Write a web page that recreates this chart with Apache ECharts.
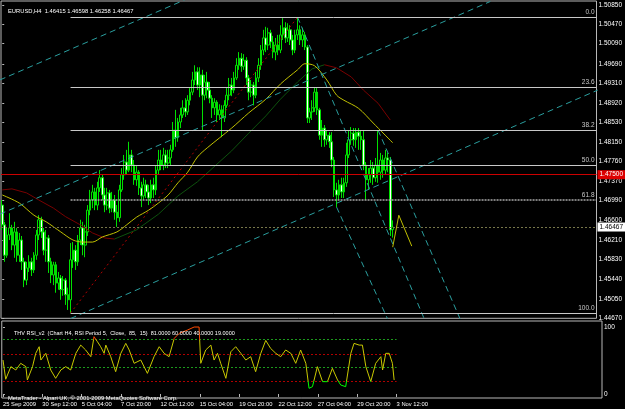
<!DOCTYPE html>
<html>
<head>
<meta charset="utf-8">
<script src="https://cdn.jsdelivr.net/npm/echarts@6/dist/echarts.min.js"></script>
<style>
  html, body { margin: 0; padding: 0; background: #000; }
  #chart { width: 625px; height: 409px; }
</style>
</head>
<body>
<div id="chart"></div>
<script>
// EURUSD H4 bars: [open, close, low, high]
const candles = [
  [1.4690,1.4651,1.4641,1.4700],[1.4651,1.4591,1.4578,1.4657],[1.4591,1.4631,1.4586,1.4645],[1.4631,1.4645,1.4621,1.4674],
  [1.4645,1.4611,1.4601,1.4651],[1.4611,1.4637,1.4586,1.4657],[1.4637,1.4591,1.4578,1.4645],[1.4591,1.4621,1.4578,1.4635],
  [1.4621,1.4578,1.4562,1.4629],[1.4578,1.4542,1.4528,1.4586],[1.4542,1.4566,1.4532,1.4578],[1.4566,1.4578,1.4558,1.4591],
  [1.4578,1.4562,1.4550,1.4586],[1.4562,1.4591,1.4556,1.4597],[1.4591,1.4631,1.4582,1.4641],[1.4631,1.4661,1.4621,1.4670],
  [1.4661,1.4637,1.4625,1.4667],[1.4637,1.4601,1.4591,1.4645],[1.4601,1.4625,1.4578,1.4641],[1.4625,1.4578,1.4556,1.4631],
  [1.4578,1.4552,1.4536,1.4586],[1.4552,1.4572,1.4532,1.4578],[1.4572,1.4536,1.4517,1.4578],[1.4536,1.4546,1.4523,1.4558],
  [1.4546,1.4523,1.4503,1.4552],[1.4523,1.4542,1.4511,1.4550],[1.4542,1.4513,1.4493,1.4546],[1.4513,1.4503,1.4483,1.4527],
  [1.4503,1.4582,1.4477,1.4615],[1.4582,1.4601,1.4566,1.4617],[1.4601,1.4578,1.4562,1.4611],[1.4578,1.4621,1.4570,1.4631],
  [1.4621,1.4645,1.4611,1.4661],[1.4645,1.4611,1.4591,1.4657],[1.4611,1.4637,1.4587,1.4651],[1.4637,1.4680,1.4629,1.4690],
  [1.4680,1.4700,1.4670,1.4720],[1.4700,1.4716,1.4684,1.4730],[1.4716,1.4690,1.4680,1.4724],[1.4690,1.4724,1.4680,1.4736],
  [1.4724,1.4744,1.4716,1.4759],[1.4744,1.4710,1.4700,1.4750],[1.4710,1.4690,1.4676,1.4724],[1.4690,1.4714,1.4680,1.4724],
  [1.4714,1.4684,1.4674,1.4720],[1.4684,1.4700,1.4676,1.4716],[1.4700,1.4676,1.4661,1.4710],[1.4676,1.4665,1.4647,1.4690],
  [1.4665,1.4720,1.4657,1.4730],[1.4720,1.4750,1.4716,1.4763],[1.4750,1.4775,1.4740,1.4789],[1.4775,1.4759,1.4750,1.4799],
  [1.4759,1.4789,1.4755,1.4815],[1.4789,1.4769,1.4755,1.4799],[1.4769,1.4740,1.4730,1.4779],[1.4740,1.4755,1.4728,1.4769],
  [1.4755,1.4724,1.4710,1.4759],[1.4724,1.4708,1.4686,1.4736],[1.4708,1.4730,1.4700,1.4744],[1.4730,1.4716,1.4704,1.4740],
  [1.4716,1.4704,1.4690,1.4730],[1.4704,1.4730,1.4694,1.4740],[1.4730,1.4720,1.4704,1.4744],[1.4720,1.4759,1.4710,1.4769],
  [1.4759,1.4779,1.4750,1.4799],[1.4779,1.4769,1.4759,1.4799],[1.4769,1.4789,1.4759,1.4803],[1.4789,1.4773,1.4763,1.4799],
  [1.4773,1.4783,1.4763,1.4799],[1.4783,1.4799,1.4769,1.4809],[1.4799,1.4838,1.4795,1.4854],[1.4838,1.4823,1.4805,1.4878],
  [1.4823,1.4854,1.4815,1.4862],[1.4854,1.4868,1.4842,1.4882],[1.4868,1.4882,1.4862,1.4897],[1.4882,1.4874,1.4864,1.4901],
  [1.4874,1.4897,1.4868,1.4907],[1.4897,1.4913,1.4887,1.4921],[1.4913,1.4937,1.4907,1.4953],[1.4937,1.4953,1.4927,1.4966],
  [1.4953,1.4927,1.4917,1.4962],[1.4927,1.4947,1.4903,1.4962],[1.4947,1.4907,1.4838,1.4957],[1.4907,1.4933,1.4897,1.4947],
  [1.4933,1.4917,1.4901,1.4953],[1.4917,1.4901,1.4891,1.4933],[1.4901,1.4882,1.4862,1.4907],[1.4882,1.4893,1.4868,1.4901],
  [1.4893,1.4868,1.4854,1.4897],[1.4868,1.4878,1.4858,1.4889],[1.4878,1.4862,1.4824,1.4887],[1.4862,1.4887,1.4854,1.4897],
  [1.4887,1.4907,1.4882,1.4921],[1.4907,1.4927,1.4897,1.4941],[1.4927,1.4917,1.4905,1.4941],[1.4917,1.4941,1.4911,1.4953],
  [1.4941,1.4966,1.4937,1.4980],[1.4966,1.4980,1.4957,1.4992],[1.4980,1.4964,1.4953,1.4990],[1.4964,1.4976,1.4957,1.4988],
  [1.4976,1.4941,1.4927,1.4982],[1.4941,1.4913,1.4897,1.4947],[1.4913,1.4927,1.4903,1.4937],[1.4927,1.4907,1.4887,1.4933],
  [1.4907,1.4941,1.4901,1.4953],[1.4941,1.4966,1.4933,1.4980],[1.4966,1.4996,1.4957,1.5006],[1.4996,1.5020,1.4986,1.5036],
  [1.5020,1.5006,1.4992,1.5042],[1.5006,1.5030,1.4996,1.5040],[1.5030,1.5012,1.5000,1.5036],[1.5012,1.4992,1.4980,1.5024],
  [1.4992,1.5006,1.4976,1.5020],[1.5006,1.4996,1.4986,1.5026],[1.4996,1.5026,1.4990,1.5045],[1.5026,1.5040,1.5016,1.5059],
  [1.5040,1.5020,1.5010,1.5051],[1.5020,1.5036,1.5012,1.5049],[1.5036,1.5016,1.5006,1.5045],[1.5016,1.4996,1.4986,1.5026],
  [1.4996,1.5026,1.4990,1.5036],[1.5026,1.5036,1.5016,1.5061],[1.5036,1.5016,1.5006,1.5045],[1.5016,1.5026,1.5002,1.5040],
  [1.5026,1.5002,1.4996,1.5032],[1.5002,1.4862,1.4852,1.5006],[1.4862,1.4874,1.4852,1.4882],[1.4874,1.4882,1.4858,1.4897],
  [1.4882,1.4913,1.4874,1.4923],[1.4913,1.4878,1.4868,1.4921],[1.4878,1.4828,1.4819,1.4882],[1.4828,1.4842,1.4805,1.4858],
  [1.4842,1.4819,1.4805,1.4848],[1.4819,1.4828,1.4809,1.4838],[1.4828,1.4815,1.4803,1.4834],[1.4815,1.4779,1.4765,1.4834],
  [1.4779,1.4720,1.4706,1.4785],[1.4720,1.4710,1.4686,1.4734],[1.4710,1.4730,1.4700,1.4740],[1.4730,1.4716,1.4704,1.4744],
  [1.4716,1.4734,1.4704,1.4744],[1.4734,1.4789,1.4726,1.4813],[1.4789,1.4819,1.4783,1.4838],[1.4819,1.4832,1.4809,1.4844],
  [1.4832,1.4819,1.4807,1.4842],[1.4819,1.4834,1.4803,1.4842],[1.4834,1.4826,1.4799,1.4842],[1.4826,1.4819,1.4799,1.4838],
  [1.4819,1.4769,1.4759,1.4838],[1.4769,1.4740,1.4700,1.4775],[1.4740,1.4750,1.4720,1.4763],[1.4750,1.4763,1.4734,1.4779],
  [1.4763,1.4744,1.4730,1.4775],[1.4744,1.4769,1.4736,1.4783],[1.4769,1.4755,1.4734,1.4838],[1.4755,1.4779,1.4740,1.4793],
  [1.4779,1.4759,1.4744,1.4789],[1.4759,1.4783,1.4750,1.4799],[1.4783,1.4779,1.4755,1.4793],[1.4779,1.4641,1.4629,1.4785],
  [1.46415,1.46467,1.46258,1.46598]
];

const slotCount = 244;   // bar slots across the visible window (incl. empty right shift)
const timeLabelBars = [0, 16, 32, 48, 64, 80, 96, 112, 128, 144, 160];
const timeLabels = ['25 Sep 2009', '30 Sep 12:00', '5 Oct 04:00', '7 Oct 20:00', '12 Oct 12:00', '15 Oct 04:00',
  '19 Oct 20:00', '22 Oct 12:00', '27 Oct 04:00', '29 Oct 20:00', '3 Nov 12:00'];
const priceTicks = [1.50850, 1.50470, 1.50090, 1.49690, 1.49310, 1.48920, 1.48530, 1.48150, 1.47760,
  1.47370, 1.46990, 1.46600, 1.46210, 1.45830, 1.45440, 1.45050, 1.44670];

const fibLevels = [1.5061, 1.4923, 1.4838, 1.4769, 1.4700, 1.4477];
const fibNames = ['0.0', '23.6', '38.2', '50.0', '61.8', '100.0'];
const fibStartBar = 28;
const fibTrend = [[28, 1.4477], [121, 1.5061]];
const redLevel = 1.4750;
const bidPrice = 1.46467;

// moving averages [bar, price]
const maYellow = [[0,1.4710],[7,1.4694],[13,1.4670],[18,1.4657],[24,1.4637],[29,1.4621],[33,1.4617],[37,1.4617],
  [41,1.4627],[47,1.4637],[51,1.4651],[55,1.4666],[60,1.4680],[64,1.4694],[68,1.4710],[72,1.4734],[76,1.4755],
  [80,1.4785],[84,1.4803],[94,1.4842],[101,1.4872],[108,1.4899],[114,1.4929],[121,1.4957],[124,1.4969],[128,1.4965],
  [133,1.4937],[137,1.4907],[140,1.4897],[146,1.4881],[152,1.4852],[160,1.4813]];
const maSlowFall1 = [[0,1.4720],[4,1.4722],[10,1.4714],[15,1.4700],[21,1.4684],[26,1.4667],[32,1.4651],[37,1.4635],
  [42,1.4625],[46,1.4623]];
const maSlowRise = [[46,1.4623],[55,1.4641],[64,1.4672],[72,1.4708],[80,1.4736],[94,1.4797],[101,1.4832],
  [108,1.4866],[114,1.4899],[121,1.4933],[127,1.4959],[132,1.4967]];
const maSlowFall2 = [[132,1.4967],[137,1.4961],[143,1.4943],[148,1.4917],[154,1.4891],[159,1.4858]];
const zigzag = [[160,1.4607],[162.5,1.4670],[167.8,1.4609]];

// trend channels [bar, price] endpoints
const channelUp = [
  [[-1,1.4937],[80,1.5106]],
  [[-1,1.4672],[200,1.5092]],
  [[28,1.4466],[244,1.4917]]
];
const channelDown = [
  [[121,1.5061],[176,1.4430]],
  [[137,1.4686],[160,1.4443]],
  [[154,1.4838],[188,1.4461]]
];

// THV RSI_v2 readings [bar, value]
const rsi = [[0,50.7],[1.1,22],[3.2,40.8],[5.2,35.8],[7.2,45.8],[9.3,40.8],[9.9,20.9],[12,40.8],[13.3,60.7],
  [14.7,70.6],[15.4,50.7],[17.4,60.7],[19.4,35.8],[21.4,23.4],[23.5,35.8],[25.5,40.8],[27.5,35.8],[29.6,60.7],
  [31.6,73],[33.6,65.7],[35.7,55.7],[37,85.6],[37.7,88],[38.4,78],[39.7,70.6],[41.1,60.7],[41.8,73],[43.8,55.7],
  [45.8,33.3],[47.9,60.7],[49.9,75.6],[51.3,65.7],[53.3,45.8],[56,50.7],[58.7,30.8],[61.4,55.7],[63.5,70.6],
  [65.5,60.7],[67.5,55.7],[69.6,83],[71.6,90.5],[75,95.5],[77.7,100],[79.7,100],[80.4,45.8],[82.4,65.7],[84.5,73],
  [85.8,50.7],[87.2,60.7],[88.5,45.8],[90.6,23.4],[92.6,63],[94.6,70.6],[96.7,60.7],[98.7,50.7],[100.7,55.7],
  [102.7,33.3],[104.8,60.7],[106.8,80],[108.8,68],[110.9,60.7],[112.9,55.7],[114.9,65.7],[117,60.7],[119,45.8],
  [121,65.7],[123.1,45.8],[124.4,8.5],[125.8,10.9],[127.8,40.8],[129.9,18.4],[131.9,18.4],[133.9,38.3],[136,20.9],
  [137.3,13.4],[139.3,10.9],[141.4,60.7],[142.7,75.6],[144.8,73],[146.1,73],[147.5,40.8],[149.5,18.4],[151.5,45.8],
  [153.6,55.7],[154.3,35.8],[155.6,60.7],[157,60.7],[158.3,45.8],[159,20.9]];
const rsiLevels = [81, 60, 40, 19];
const rsiLevelColors = ['#1c9a1c', '#b00000', '#1c9a1c', '#b00000'];

const FONT = 'Liberation Sans';
const slots = Array.from({ length: slotCount }, (_, i) => String(i));
const chart = echarts.init(document.getElementById('chart'));

const dashed = (color) => ({ color, width: 1, type: [6, 4] });
const lastSlot = slotCount - 0.5;

function trendSeries(points, lineStyle) {
  return {
    type: 'line', xAxisIndex: 1, yAxisIndex: 0, data: points, showSymbol: false,
    silent: true, animation: false, lineStyle, z: 4,
  };
}

function priceTag(value, fg, bg) {
  return {
    show: true, position: 'end', formatter: value.toFixed(5), color: fg, backgroundColor: bg,
    fontSize: 6.5, fontFamily: FONT, padding: [1, 2], distance: 1,
  };
}

const levelLines = [
  [{ coord: [-0.5, redLevel], lineStyle: { color: '#cc0000', width: 1, type: 'solid' },
     label: priceTag(redLevel, '#ffffff', '#dd0000') },
   { coord: [lastSlot, redLevel] }],
  [{ coord: [-0.5, bidPrice], lineStyle: { color: '#77774a', width: 1, type: [2, 2] },
     label: priceTag(bidPrice, '#000000', '#ffffff') },
   { coord: [lastSlot, bidPrice] }],
  ...fibLevels.map((lvl, i) => [
    { coord: [fibStartBar, lvl], lineStyle: i === 4
        ? { color: '#a8a8a8', width: 1.5, type: [2, 1] }
        : { color: '#c8c8c8', width: 1, type: 'solid' },
      label: { show: true, position: 'insideEndTop', formatter: fibNames[i], color: '#c8c8c8',
        fontSize: 6.5, fontFamily: FONT, distance: [2, 1] } },
    { coord: [lastSlot, lvl] },
  ]),
];

chart.setOption({
  backgroundColor: '#000000',
  animation: false,
  title: [
    { text: 'EURUSD,H4  1.46415 1.46598 1.46258 1.46467', left: 3, top: 3,
      textStyle: { color: '#ffffff', fontSize: 5.8, fontWeight: 'normal', fontFamily: FONT } },
    { text: 'THV RSI_v2  (Chart H4, RSI Period 5,  Close,  85,  15)  81.0000 60.0000 40.0000 19.0000', left: 9, top: 325,
      textStyle: { color: '#ffffff', fontSize: 5.5, fontWeight: 'normal', fontFamily: FONT } },
    { text: 'MetaTrader - Alpari UK, © 2001-2009 MetaQuotes Software Corp.', left: 3, top: 390,
      textStyle: { color: '#ffffff', fontSize: 5.8, fontWeight: 'normal', fontFamily: FONT } },
  ],
  grid: [
    { left: 1, top: 1, width: 601, height: 317.3, show: true, borderColor: '#b8b8b8', borderWidth: 1, backgroundColor: '#000' },
    { left: 1, top: 321, width: 601, height: 77, show: true, borderColor: '#b8b8b8', borderWidth: 1, backgroundColor: '#000' },
  ],
  xAxis: [
    { type: 'category', gridIndex: 0, data: slots, boundaryGap: true, show: false },
    { type: 'value', gridIndex: 0, min: -0.5, max: lastSlot, show: false },
    {
      type: 'value', gridIndex: 1, min: -0.5, max: lastSlot, position: 'bottom',
      axisLine: { show: false }, splitLine: { show: false },
      axisTick: { show: true, customValues: timeLabelBars, length: 3, lineStyle: { color: '#b8b8b8' } },
      axisLabel: {
        customValues: timeLabelBars, color: '#ffffff', fontSize: 5.8, fontFamily: FONT, align: 'left', margin: 3,
        formatter: (v) => timeLabels[timeLabelBars.indexOf(v)] || '',
      },
    },
  ],
  yAxis: [
    {
      type: 'value', gridIndex: 0, position: 'right', min: 1.44665, max: 1.50929, scale: true,
      axisLine: { show: false }, splitLine: { show: false },
      axisTick: { show: true, customValues: priceTicks, length: 2, lineStyle: { color: '#b8b8b8' } },
      axisLabel: {
        customValues: priceTicks, color: '#ffffff', fontSize: 6.5, fontFamily: FONT, margin: 2,
        formatter: (v) => v.toFixed(5),
      },
    },
    {
      type: 'value', gridIndex: 1, position: 'right', min: -6, max: 109,
      axisLine: { show: false }, splitLine: { show: false },
      axisTick: { show: true, customValues: [0, 100], length: 2, lineStyle: { color: '#b8b8b8' } },
      axisLabel: { customValues: [0, 100], color: '#ffffff', fontSize: 6.5, fontFamily: FONT, margin: 2 },
    },
  ],
  visualMap: {
    type: 'piecewise', show: false, seriesIndex: 1, dimension: 1,
    pieces: [
      { lt: 19, color: '#00ff00' },
      { gte: 19, lte: 81, color: '#c8c800' },
      { gt: 81, color: '#ff4a00' },
    ],
  },
  series: [
    {
      type: 'candlestick', xAxisIndex: 0, yAxisIndex: 0, data: candles, barWidth: 2.2, z: 3,
      itemStyle: { color: '#000000', color0: '#ffffff', borderColor: '#00e000', borderColor0: '#00e000', borderWidth: 1 },
    },
    // RSI (series index 1, coloured by the visualMap)
    {
      type: 'line', xAxisIndex: 2, yAxisIndex: 1, data: rsi, showSymbol: false, silent: true,
      lineStyle: { width: 1 }, z: 5,
      markLine: {
        silent: true, symbol: 'none', animation: false, label: { show: false },
        data: rsiLevels.map((v, i) => [
          { coord: [0, v], lineStyle: { color: rsiLevelColors[i], width: 1, type: [2, 2] } },
          { coord: [160, v] },
        ]),
      },
    },
    // Fibonacci trend line, its levels and the horizontal price lines
    Object.assign(trendSeries(fibTrend, { color: '#b00000', width: 1, type: [2, 3] }), {
      markLine: { silent: true, symbol: 'none', animation: false, data: levelLines },
    }),
    trendSeries(maSlowFall1, { color: '#7a0000', width: 1 }),
    trendSeries(maSlowRise, { color: '#0d520d', width: 1 }),
    trendSeries(maSlowFall2, { color: '#7a0000', width: 1 }),
    Object.assign(trendSeries(maYellow, { color: '#c0c000', width: 1 }), { smooth: 0.3 }),
    trendSeries(zigzag, { color: '#c0c000', width: 1 }),
    ...channelUp.map((pts) => trendSeries(pts, dashed('#2a9e9e'))),
    ...channelDown.map((pts) => trendSeries(pts, dashed('#2a9e9e'))),
  ],
});
</script>
</body>
</html>
